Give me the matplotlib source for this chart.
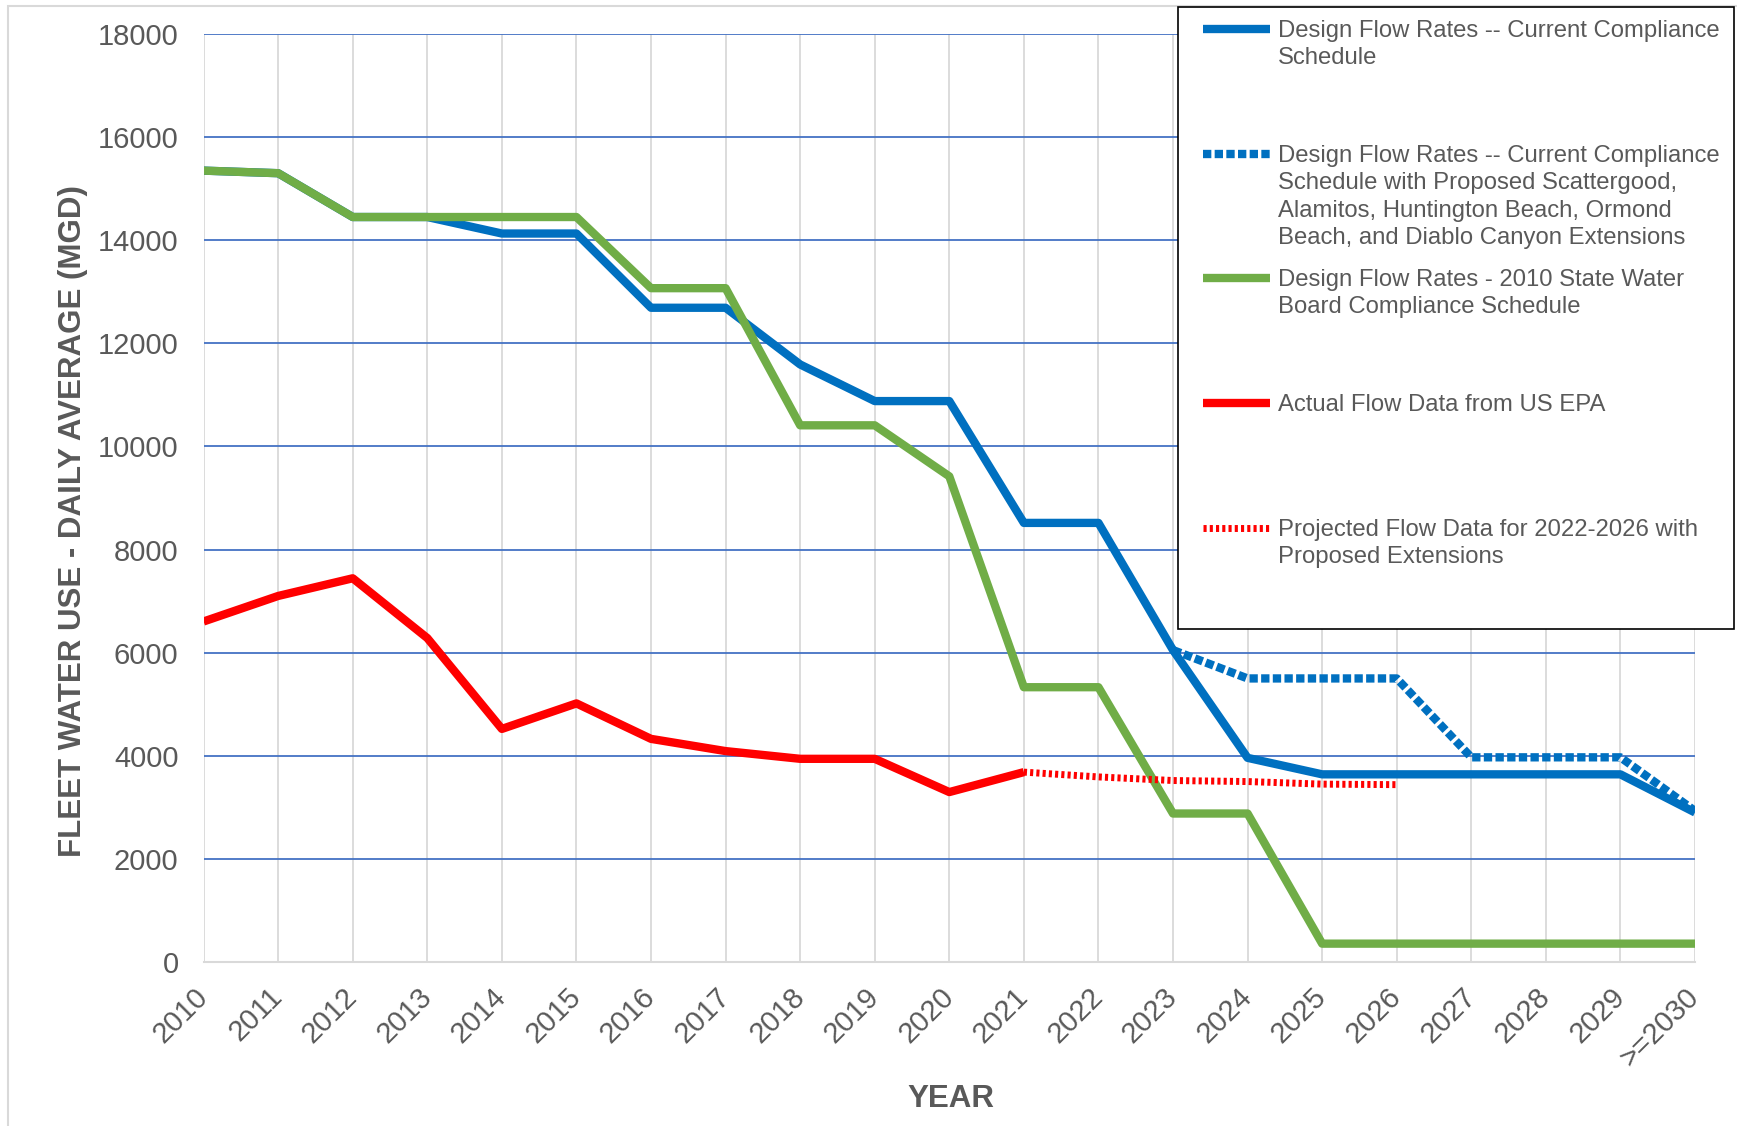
import matplotlib.pyplot as plt
from matplotlib.lines import Line2D
from matplotlib.patches import Rectangle

plt.rcParams['font.family'] = ['Liberation Sans', 'DejaVu Sans']

# Chart data (MGD)
years = ["2010", "2011", "2012", "2013", "2014", "2015", "2016", "2017", "2018", "2019",
         "2020", "2021", "2022", "2023", "2024", "2025", "2026", "2027", "2028", "2029", ">=2030"]

current_schedule = [15350, 15300, 14450, 14450, 14130, 14130, 12690, 12690, 11590, 10880,
                    10880, 8517, 8517, 6050, 3960, 3640, 3640, 3640, 3640, 3640, 2900]

# starts at 2023
extension_years = years[13:]
extension_schedule = [6050, 5500, 5500, 5500, 3970, 3970, 3970, 2930]

state_board_2010 = [15350, 15300, 14450, 14450, 14450, 14450, 13070, 13070, 10410, 10410,
                    9420, 5330, 5330, 2880, 2880, 356, 356, 356, 356, 356, 356]

# 2010-2021
actual_years = years[:12]
actual_flow = [6605, 7100, 7443, 6283, 4521, 5016, 4328, 4091, 3941, 3941, 3296, 3683]

# 2021-2026
projected_years = years[11:17]
projected_flow = [3683, 3590, 3520, 3500, 3450, 3440]

labels = [
    "Design Flow Rates -- Current Compliance\nSchedule",
    "Design Flow Rates -- Current Compliance\nSchedule with Proposed Scattergood,\n"
    "Alamitos, Huntington Beach, Ormond\nBeach, and Diablo Canyon Extensions",
    "Design Flow Rates - 2010 State Water\nBoard Compliance Schedule",
    "Actual Flow Data from US EPA",
    "Projected Flow Data for 2022-2026 with\nProposed Extensions",
]

BLUE = "#0070C0"
GREEN = "#70AD47"
RED = "#FF0000"
GREY_TXT = "#595959"

W, H = 1737, 1126
fig = plt.figure(figsize=(W / 100, H / 100), dpi=100)


def fx(px):
    return px / W


def fy(py):
    return 1 - py / H


ax = fig.add_axes([fx(203.6), fy(962), fx(1695) - fx(203.6), fy(34) - fy(962)])

idx = {y: i for i, y in enumerate(years)}
styles = [
    dict(color=BLUE, lw=6, solid_capstyle="butt"),
    dict(color=BLUE, lw=6, dashes=(1.0, 0.4), dash_capstyle="butt"),
    dict(color=GREEN, lw=6, solid_capstyle="butt"),
    dict(color=RED, lw=6, solid_capstyle="butt"),
    dict(color=RED, lw=5, dashes=(0.45, 0.45), dash_capstyle="butt"),
]

ax.plot([idx[y] for y in years], current_schedule, **styles[0])
ax.plot([idx[y] for y in extension_years], extension_schedule, **styles[1])
ax.plot([idx[y] for y in years], state_board_2010, **styles[2])
ax.plot([idx[y] for y in actual_years], actual_flow, **styles[3])
ax.plot([idx[y] for y in projected_years], projected_flow, **styles[4])

ax.set_xlim(0, len(years) - 1)
ax.set_ylim(0, 18000)
ax.set_yticks(range(0, 18001, 2000))
ax.set_xticks(range(len(years)))
ax.set_xticklabels(years, rotation=45, ha="right", va="center", rotation_mode="anchor")

ax.set_axisbelow(True)
ax.xaxis.grid(True, color="#D9D9D9", lw=1.3)
ax.yaxis.grid(True, color="#4472C4", lw=1.3)
for s in ["left", "right", "top"]:
    ax.spines[s].set_visible(False)
ax.spines["bottom"].set_color("#D9D9D9")
ax.spines["bottom"].set_linewidth(1.5)
ax.tick_params(axis="both", length=0, labelsize=21, labelcolor=GREY_TXT)
ax.tick_params(axis="y", pad=18)
ax.tick_params(axis="x", pad=22)

ax.set_ylabel("FLEET WATER USE - DAILY AVERAGE (MGD)", fontsize=22.5, fontweight="bold",
              color=GREY_TXT, va="center")
ax.set_xlabel("YEAR", fontsize=22.5, fontweight="bold", color=GREY_TXT, va="center")
ax.yaxis.set_label_coords(-0.0876, 0.4756)
ax.xaxis.set_label_coords(0.5008, -0.1476)

# chart border
fig.add_artist(Rectangle((fx(7.5), fy(1200)), 1.2, fy(5.5) - fy(1200), transform=fig.transFigure,
                         fill=False, edgecolor="#D9D9D9", lw=1.5))

# legend box
fig.add_artist(Rectangle((fx(1178), fy(629)), fx(1734) - fx(1178), fy(7.5) - fy(629),
                         transform=fig.transFigure, facecolor="white", edgecolor="black", lw=1.2,
                         zorder=5))
entry_y = [29, 154, 278, 403, 528]
for lab, st, ey in zip(labels, styles, entry_y):
    fig.add_artist(Line2D([fx(1203), fx(1270)], [fy(ey), fy(ey)], transform=fig.transFigure,
                          zorder=6, **st))
    fig.text(fx(1278), fy(ey - 9), lab, fontsize=17.2, color=GREY_TXT, va="top", ha="left",
             linespacing=1.31, zorder=6)

fig.savefig("out.png", dpi=100)
